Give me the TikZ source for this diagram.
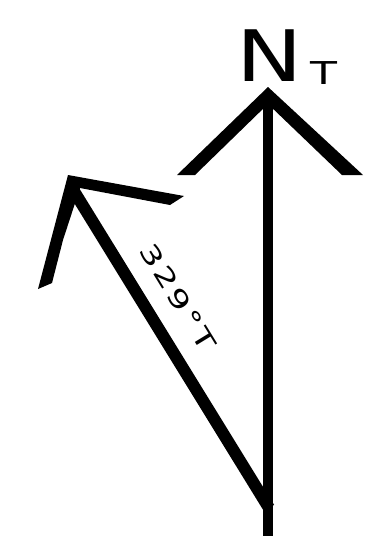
\documentclass[tikz,border=0pt]{standalone}
\usepackage{fontspec}
\newfontfamily\lblfont{DejaVu Sans}
\newfontfamily\bearfont[LetterSpace=8]{DejaVu Sans}
\begin{document}
\begin{tikzpicture}[x=1pt,y=-1pt,
  shaft/.style={line width=10.5pt, line cap=butt, draw=black},
  bearing/.style={line width=12pt, line cap=butt, draw=black},
  head/.style={fill=black, draw=none},
  lbl/.style={inner sep=0pt, outer sep=0pt, font=\lblfont}]
\useasboundingbox (0,0) rectangle (382,536);
\fill[white] (0,0) rectangle (382,536);
% true north
\coordinate (ntop) at (268,100);
\coordinate (nbot) at (268,536);
\draw[shaft] (ntop) -- (nbot);
\fill[head] (268,87) -- (177,175) -- (195,175) -- (268,104) -- (342,175) -- (363,175) -- cycle;
% bearing line
\coordinate (dtop) at (72,188);
\coordinate (dbot) at (269,508);
\draw[bearing] (dtop) -- (dbot);
\fill[head] (68,175) -- (184,196) -- (170,205) -- (80,188) -- (63,240) -- (52,283) -- (38,289) -- cycle;
% labels
\node[lbl] (N) at (270,56) {\scalebox{1.25}[1]{\fontsize{71}{71}\selectfont N}};
\node[lbl] (T) at (323.5,73.5) {\scalebox{1.4}[1]{\fontsize{31.5}{31.5}\selectfont T}};
\node[inner sep=0pt, outer sep=0pt, rotate=-58.5] (brg) at (178,297) {\scalebox{1.45}[1]{\bearfont\fontsize{25}{25}\selectfont 329°T}};
\end{tikzpicture}
\end{document}
